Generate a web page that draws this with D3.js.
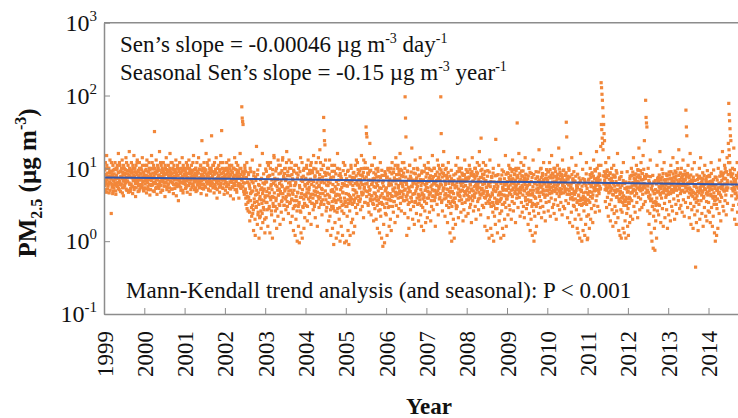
<!DOCTYPE html>
<html>
<head>
<meta charset="utf-8">
<script src="https://cdn.jsdelivr.net/npm/d3@7"></script>
<style>
  body { margin: 0; background: #fff; }
  svg { display: block; font-family: "Liberation Serif", "Times New Roman", serif; }
</style>
</head>
<body>
<svg id="chart" width="738" height="418"></svg>
<script>
// PM2.5 (ug m-3), 8 samples per month, Jan..Dec
const pm1999 = [7.2,9.5,5.8,12,6.4,8.1,15,6.9, 5.2,7.7,10,6.1,4.6,8.8,13,7.4, 6.3,2.4,9.1,5.5,7.9,11,4.9,6.7, 8.4,5.9,12,7.1,4.4,9.6,6.2,10,
  5.6,7.3,16,8.9,5.1,6.6,11,4.8, 9.2,6.1,7.8,13,5.4,8.3,4.2,7.0, 10,5.8,8.6,6.4,14,7.5,5.0,9.3, 6.7,11,4.7,8.0,17,6.0,9.8,5.3,
  7.6,12,5.7,8.7,4.5,10,6.8,15, 5.5,9.0,7.2,4.1,11,6.5,8.2,13, 6.2,4.8,9.4,7.0,12,5.2,8.5,6.0, 10,7.4,5.6,14,6.6,8.9,4.9,7.8];
const pm2000 = [8.0,5.4,11,6.8,9.7,4.6,13,7.1, 6.3,9.0,5.1,12,7.6,4.3,8.4,10, 5.8,15,7.3,6.0,9.9,4.9,11,7.9, 32,6.5,8.8,5.3,13,7.0,4.4,9.2,
  6.9,10,5.6,8.1,17,6.2,7.7,4.7, 11,7.4,5.0,9.5,6.6,12,8.3,5.7, 7.2,4.1,10,6.4,14,8.6,5.5,9.0, 6.0,11,7.8,4.8,9.3,16,6.7,8.2,
  5.2,7.5,12,6.3,10,4.5,8.7,6.9, 9.6,5.9,7.1,13,4.2,8.0,6.1,11, 7.0,3.6,9.1,5.7,12,6.8,8.5,5.0, 10,6.4,14,7.7,4.6,9.4,6.2,8.3];
const pm2001 = [6.6,9.8,5.3,8.0,12,7.2,4.7,10, 7.5,5.8,13,6.2,9.0,4.4,8.4,6.9, 11,5.5,7.7,9.4,6.0,15,7.1,5.1, 8.6,6.5,10,4.8,7.9,12,5.9,9.1,
  6.3,14,7.4,5.4,9.7,6.8,11,4.5, 8.2,24,6.1,10,7.0,5.2,12,8.8, 5.7,9.5,7.3,16,4.3,8.0,6.6,11, 7.8,5.0,13,6.4,9.2,4.9,8.5,10,
  28,6.2,7.6,11,5.6,9.0,4.6,12, 7.0,8.9,5.3,14,6.7,3.9,10,7.4, 6.1,11,8.1,4.7,9.6,5.8,15,7.2, 33,8.4,5.4,12,6.9,9.8,4.4,7.7];
const pm2002 = [7.1,5.0,10,6.4,12,8.3,4.6,9.2, 6.0,13,7.5,5.3,9.9,4.2,8.1,6.7, 11,5.6,8.7,7.0,3.8,10,6.2,14, 5.1,8.0,6.6,12,4.7,9.4,7.3,5.8,
  9.0,3.9,7.8,6.1,16,5.4,10,7.2, 70,49,44,40,6.3,8.6,4.4,11, 5.0,9.1,3.2,7.4,12,4.1,6.5,2.6, 8.2,3.6,5.7,1.9,10,4.5,7.0,2.9,
  4.8,13,2.4,6.3,1.4,8.8,3.4,5.5, 1.2,7.6,3.0,20,4.4,1.7,9.5,2.5, 6.0,1.1,3.8,11,2.2,5.1,1.5,7.3, 3.3,16,1.8,4.9,8.4,2.7,6.1,1.3];
const pm2003 = [4.2,9.8,2.1,6.5,3.4,12,1.6,5.3, 7.8,2.8,4.6,1.3,10,3.7,6.0,2.3, 5.1,1.1,8.3,3.0,4.0,14,1.9,6.7, 2.6,9.2,3.9,1.5,5.6,7.1,2.2,4.3,
  11,3.2,6.2,1.7,4.8,8.6,2.5,5.9, 3.6,13,4.5,2.0,7.4,3.1,9.9,5.2, 6.8,2.7,4.1,17,3.5,8.0,5.5,2.4, 4.9,10,3.3,6.4,1.8,5.0,12,3.8,
  2.2,7.2,4.4,1.4,9.0,3.0,5.8,1.2, 6.1,2.0,11,3.6,1.0,4.7,8.1,1.6, 3.2,0.95,5.4,2.6,14,1.3,4.0,7.5, 1.1,6.6,2.9,9.4,1.5,4.3,2.1,5.7];
const pm2004 = [7.0,3.1,10,4.6,1.9,6.2,13,3.8, 5.1,2.4,8.5,4.0,11,1.7,6.8,3.3, 9.3,4.4,2.7,15,5.7,3.0,7.6,2.1, 4.8,12,3.5,6.3,1.6,8.9,4.1,5.6,
  2.9,7.3,18,4.5,3.2,9.7,5.3,2.3, 6.7,3.7,11,50,33,24,21,4.9, 8.0,2.6,5.9,1.4,10,3.4,6.5,1.9, 4.2,13,2.2,7.1,1.2,5.0,3.0,9.1,
  1.5,6.0,2.8,0.9,4.7,11,1.8,3.6, 8.4,1.1,5.2,2.5,16,1.3,4.3,6.9, 2.0,9.8,1.0,3.9,7.7,1.6,5.5,3.1, 1.2,4.6,12,2.4,6.1,0.95,3.5,8.2];
const pm2005 = [3.0,1.0,5.8,2.2,9.1,1.4,4.4,0.9, 6.6,2.6,1.2,4.0,11,1.8,3.3,7.5, 2.0,5.1,1.3,8.8,3.7,1.6,6.2,2.9, 4.7,13,2.4,5.9,3.2,9.6,4.1,7.0,
  5.4,3.5,8.1,2.7,6.4,15,4.3,3.0, 7.8,4.6,2.1,10,5.5,3.4,12,6.1, 37,30,27,4.8,8.6,3.1,6.9,2.5, 5.0,22,3.8,9.4,2.3,6.0,4.2,11,
  3.3,7.2,1.9,5.6,14,2.8,4.5,8.3, 2.0,6.3,3.6,1.5,10,4.9,2.6,7.7, 1.3,4.0,12,2.2,5.3,1.1,8.0,3.2, 0.85,6.7,1.7,3.9,0.95,9.0,2.4,5.1];
const pm2006 = [2.3,7.4,1.2,4.6,10,2.9,5.8,1.6, 3.8,8.9,2.0,6.1,1.4,4.2,12,3.0, 5.2,2.5,9.8,3.5,6.8,1.8,4.7,14, 3.1,7.0,4.4,2.2,11,5.4,2.8,8.2,
  4.9,16,3.3,6.4,2.6,9.3,4.0,5.9, 7.7,3.6,12,5.0,2.4,96,49,27, 6.6,1.2,4.3,9.0,2.1,5.5,1.5,3.4, 11,4.8,2.7,7.3,3.9,19,5.6,2.0,
  6.2,3.0,8.6,1.7,4.5,13,3.5,7.0, 2.4,5.3,10,3.2,6.5,1.9,4.1,8.1, 3.7,14,2.3,5.8,1.6,9.2,4.4,2.9, 6.9,1.4,4.0,11,2.6,5.0,1.8,7.6];
const pm2007 = [3.3,8.4,2.1,5.4,12,3.9,6.6,2.5, 9.6,4.6,1.9,7.1,3.0,5.9,15,4.1, 2.7,6.3,10,3.6,5.0,1.6,8.0,4.4, 6.8,3.2,13,4.9,2.3,7.5,5.6,9.9,
  4.0,6.1,96,30,3.4,8.7,2.6,11, 5.3,17,3.8,7.9,2.2,6.0,4.5,10, 3.1,7.2,1.8,5.1,12,2.9,4.2,6.7, 1.3,4.7,2.4,9.4,1.0,3.5,6.0,1.5,
  2.0,8.1,1.1,3.9,5.4,1.7,11,2.8, 5.7,3.0,14,4.3,2.1,7.0,3.6,9.1, 4.1,6.4,2.5,10,5.0,3.3,8.3,1.9, 6.9,2.7,4.8,13,3.4,5.8,2.2,7.4];
const pm2008 = [3.7,9.0,5.2,2.4,7.3,4.1,11,2.9, 6.1,3.2,8.6,1.8,5.0,14,3.6,6.7, 2.6,7.8,4.4,10,3.0,5.8,2.0,8.9, 5.3,12,3.5,6.4,2.7,4.7,17,3.9,
  7.5,2.3,26,5.1,9.7,3.1,6.0,4.5, 2.9,8.2,4.0,1.6,6.6,11,3.3,5.5, 1.4,4.8,9.3,2.1,6.2,1.1,3.7,13, 5.6,1.5,3.0,7.7,1.2,4.3,2.5,10,
  1.0,6.5,2.2,4.9,1.7,25,3.4,8.0, 2.8,1.3,5.7,3.6,11,1.9,4.6,2.4, 7.1,1.1,3.9,2.6,9.5,1.5,5.3,3.2, 1.2,6.0,2.0,4.2,15,2.9,1.6,5.0];
const pm2009 = [3.8,8.7,2.3,5.6,11,3.1,6.9,2.7, 9.8,4.4,2.0,7.0,3.5,13,5.1,2.6, 6.3,3.3,8.4,4.8,1.8,10,5.9,3.9, 42,7.4,2.9,5.2,16,4.0,6.6,2.2,
  4.6,12,3.4,7.9,2.5,5.5,9.2,3.0, 6.8,2.1,4.9,14,3.6,8.1,2.8,5.4, 3.2,7.2,1.7,4.3,10,2.4,6.0,1.4, 5.0,2.0,8.5,3.0,1.2,4.5,13,2.6,
  1.0,6.3,2.2,1.3,3.9,9.0,1.6,4.7, 7.6,3.3,5.3,2.4,18,4.1,6.4,2.9, 3.6,10,2.1,5.7,8.0,3.0,4.4,12, 2.5,6.2,4.0,1.9,7.3,3.4,9.6,5.0];
const pm2010 = [4.3,9.1,2.6,6.0,3.5,12,5.1,2.2, 7.4,3.9,15,4.8,2.9,8.3,5.6,3.2, 2.4,6.5,10,3.7,5.3,2.0,7.7,4.5, 11,3.1,6.2,19,4.1,2.7,8.8,5.0,
  3.4,7.0,4.6,2.3,13,5.8,3.0,9.5, 6.4,2.8,5.2,8.1,3.6,43,27,4.4, 2.1,7.8,3.3,10,4.9,1.8,6.1,3.8, 5.5,2.5,14,4.0,1.6,7.2,3.1,9.0,
  3.0,6.7,2.0,4.7,11,2.7,5.4,1.5, 8.3,1.3,4.2,2.3,6.3,1.1,3.6,16, 2.0,5.0,1.0,3.2,9.7,1.4,4.6,2.6, 7.0,1.2,3.9,1.7,5.8,12,2.2,1.05];
const pm2011 = [1.1,4.4,2.3,7.1,1.5,3.4,10,2.0, 5.6,2.8,8.4,3.9,1.8,6.3,13,3.1, 4.9,9.6,2.5,5.8,3.6,17,4.2,7.3, 3.0,6.8,11,4.5,2.6,8.0,5.2,20,
  150,128,104,86,68,52,40,30, 24,7.6,3.5,12,5.4,2.9,9.1,4.0, 6.1,2.2,14,4.7,3.2,8.5,1.9,5.5, 3.7,10,2.7,6.6,1.6,4.3,11,2.4,
  7.9,3.0,5.0,1.8,9.3,2.6,4.1,16, 2.1,5.9,1.4,3.5,7.4,1.2,4.8,2.7, 1.1,8.8,2.5,4.0,1.5,12,3.1,1.3, 6.2,1.9,3.7,1.1,5.2,2.4,9.0,1.6];
const pm2012 = [2.8,1.2,5.5,3.3,1.8,7.8,2.2,4.6, 10,3.6,6.3,2.0,4.9,14,3.0,8.1, 4.2,2.5,7.0,5.7,11,3.4,6.6,2.1, 9.4,4.0,19,5.1,2.7,7.6,3.8,12,
  5.3,2.9,8.5,4.4,15,3.2,6.0,24, 7.2,3.5,86,50,42,37,5.0,2.6, 10,4.1,1.7,6.4,2.4,13,3.6,1.3, 5.2,1.0,3.0,8.0,0.8,2.2,4.5,1.5,
  0.75,6.8,1.9,3.4,1.1,11,2.6,4.8, 7.5,2.3,5.6,3.1,17,4.3,1.8,6.9, 3.9,9.7,2.8,5.8,1.6,4.6,12,3.3, 2.1,6.3,4.0,8.4,2.7,5.1,1.5,7.1];
const pm2013 = [4.4,2.3,8.9,3.5,6.2,1.9,11,5.0, 3.0,7.3,2.6,14,4.7,3.8,6.6,2.0, 9.2,5.5,3.2,7.9,2.4,12,4.2,6.0, 3.6,18,5.2,2.8,8.6,4.5,3.1,10,
  6.7,2.5,4.9,13,3.7,7.0,2.2,5.8, 8.3,3.4,63,37,28,6.1,2.9,11, 4.0,7.7,2.1,5.4,16,3.3,1.7,6.5, 2.7,9.8,4.6,1.5,6.9,3.0,12,2.3,
  5.7,0.44,3.9,1.8,8.1,2.6,4.8,1.4, 7.4,3.2,10,2.0,5.3,14,3.6,6.4, 2.4,4.7,8.7,1.6,3.9,6.0,2.9,11, 5.1,2.2,7.2,3.5,1.9,9.3,4.3,2.6];
const pm2014 = [3.4,8.0,2.5,5.9,1.8,4.4,12,2.9, 6.7,1.6,4.1,2.2,9.5,3.2,1.3,5.3, 1.0,3.7,7.5,1.2,2.8,5.0,1.5,10, 4.6,2.4,13,3.5,6.3,1.9,8.4,4.0,
  5.6,17,3.0,7.2,2.6,4.9,11,3.6, 8.9,4.3,2.3,6.1,14,3.3,5.4,22, 78,55,45,35,28,24,7.8,4.2, 2.7,10,5.1,3.1,19,6.6,2.0,4.5,
  7.0,3.8,1.7,5.7,12,2.5,4.0,8.6, 3.2,6.2,2.1,9.9,4.7,1.4,5.5,3.0];

// the in-between days, also 8 per month
const pm1999b = [6.8,8.3,5.1,9.9,7.0,4.7,11,6.1, 8.6,5.7,7.4,10,6.5,9.1,5.0,7.9, 7.1,12,6.0,8.2,4.5,9.4,6.9,5.4, 9.7,6.3,7.6,4.9,10,8.0,5.8,11,
  6.4,8.7,5.3,7.2,12,6.0,9.0,7.7, 5.9,10,7.3,4.6,8.9,6.7,11,5.5, 8.1,6.2,9.6,7.0,5.2,12,6.6,8.4, 7.5,5.0,9.2,6.3,10,7.8,4.8,8.6,
  6.1,9.3,7.4,5.6,11,6.8,8.0,5.1, 7.7,10,6.2,8.8,5.4,7.0,12,6.5, 9.0,5.8,7.9,4.9,10,6.9,8.3,5.5, 7.2,9.5,6.0,11,7.6,5.3,8.5,6.7];
const pm2000b = [7.4,6.1,9.3,5.2,8.0,11,6.5,7.8, 5.6,8.9,7.0,10,6.0,9.5,5.1,8.2, 6.8,7.5,12,5.9,8.6,6.4,9.8,4.8, 7.3,10,6.2,8.4,5.5,9.1,7.1,11,
  6.0,8.0,5.3,9.4,7.6,6.6,12,5.8, 8.7,6.9,10,5.0,7.7,9.0,6.3,8.1, 5.7,11,7.2,6.4,9.6,5.1,8.3,7.0, 9.2,6.1,7.9,5.4,10,6.7,8.8,12,
  6.5,8.4,5.2,9.7,7.3,6.0,11,7.8, 5.3,7.6,9.0,6.2,8.5,5.6,10,6.9, 8.0,5.9,7.1,9.9,6.4,8.7,5.5,7.4, 6.3,9.1,7.7,5.0,11,6.8,8.2,10];
const pm2001b = [7.9,6.0,9.0,5.5,8.3,6.7,11,7.2, 5.8,8.5,7.0,10,6.3,9.4,5.1,7.6, 8.8,6.1,7.4,12,5.7,8.0,6.6,9.6, 7.3,5.4,10,6.9,8.2,5.0,9.1,6.4,
  8.6,7.0,5.6,9.8,6.2,11,7.5,5.9, 6.8,9.2,5.3,8.1,7.7,6.0,10,8.9, 7.1,5.5,9.5,6.5,8.4,12,6.1,7.8, 5.2,8.7,6.9,10,7.4,5.8,9.3,6.6,
  9.0,6.3,7.9,5.4,11,7.0,8.3,6.0, 5.7,9.7,7.2,6.4,8.6,5.1,10,7.6, 8.0,6.7,5.5,9.1,7.3,12,6.2,8.5, 6.9,10,7.5,5.3,8.8,6.1,9.4,7.0];
const pm2002b = [8.1,6.3,9.5,5.6,7.4,10,6.0,8.7, 5.9,7.8,11,6.5,8.3,5.2,9.2,7.0, 6.4,8.9,5.5,7.6,10,6.1,8.0,5.8, 7.2,9.6,6.7,5.1,8.5,7.9,11,6.2,
  8.8,5.7,7.3,9.9,6.0,8.2,5.3,7.0, 6.9,9.0,5.6,7.7,4.8,8.4,6.3,10, 5.2,3.9,7.5,4.6,2.8,6.4,3.4,8.7, 4.0,6.1,2.5,5.3,3.6,9.0,4.7,2.2,
  6.6,3.1,4.9,2.7,7.9,3.8,5.6,2.0, 4.3,6.8,2.9,5.0,3.5,8.2,2.3,4.6, 3.2,5.8,2.1,4.1,7.0,2.6,3.7,5.4, 2.4,4.5,6.3,2.9,3.6,5.2,2.0,4.0];
const pm2003b = [6.5,3.4,9.1,4.8,2.7,7.6,4.2,11, 5.3,3.0,8.0,4.0,12,5.7,2.6,6.9, 4.1,9.6,3.3,6.2,15,4.6,7.3,3.0, 5.9,3.6,10,2.8,7.0,5.0,13,4.3,
  8.4,5.2,3.1,11,4.5,6.8,3.5,9.3, 5.6,14,4.0,7.7,3.1,8.5,4.9,10, 3.8,7.1,12,5.4,3.0,9.0,4.4,6.3, 13,4.3,7.9,3.4,5.8,10,3.7,8.2,
  4.6,6.9,2.8,9.4,5.0,3.6,11,3.1, 6.4,4.1,8.6,2.6,7.3,4.6,3.0,10, 3.4,5.8,9.0,4.0,2.5,6.8,4.5,12, 5.1,3.0,7.8,3.8,10,3.3,6.0,4.3];
const pm2004b = [7.3,4.1,11,5.2,3.0,8.4,4.6,6.6, 5.5,9.4,3.5,7.1,4.4,12,6.0,3.3, 8.7,3.9,6.6,10,4.9,3.2,7.9,4.3, 9.8,5.4,3.4,8.9,4.7,6.9,14,3.8,
  5.8,8.2,4.0,12,6.4,3.5,9.6,5.1, 7.6,4.5,11,3.2,6.3,8.8,4.2,13, 3.7,6.9,2.9,8.6,4.4,5.8,10,3.3, 8.3,4.0,6.3,2.7,7.5,4.8,11,3.5,
  5.1,3.0,7.6,3.8,9.1,2.6,5.6,4.2, 3.4,6.6,4.4,10,2.8,6.0,3.7,8.0, 4.3,2.9,8.5,5.1,3.5,7.2,2.6,6.2, 4.7,9.3,3.2,5.8,3.9,11,3.4,6.8];
const pm2005b = [4.5,7.2,3.0,5.7,3.7,9.4,3.3,6.5, 4.2,7.8,3.6,6.1,10,3.8,6.7,3.2, 5.8,8.6,4.3,3.4,7.4,5.0,11,3.9, 7.9,4.6,6.4,12,4.1,8.5,3.6,5.9,
  9.2,5.4,3.8,7.0,9.9,4.7,8.0,6.0, 4.4,8.8,13,5.2,7.2,3.4,10,4.9, 7.6,4.1,6.2,10,3.3,8.3,5.6,4.4, 9.0,5.1,3.6,6.9,4.2,11,6.1,3.7,
  6.6,3.2,8.7,4.6,7.3,3.8,5.5,9.8, 4.1,7.6,3.1,5.8,9.1,3.7,6.7,3.3, 5.4,2.7,7.5,4.2,3.4,9.4,4.5,6.3, 3.2,5.7,4.0,8.0,2.9,4.9,8.3,3.8];
const pm2006b = [5.4,3.3,7.6,4.2,9.5,3.7,6.4,3.0, 7.1,4.5,10,3.6,5.9,8.4,4.1,6.7, 4.9,8.8,3.5,7.4,5.4,11,4.2,6.1, 8.2,4.6,6.9,10,3.9,5.8,9.1,4.5,
  7.2,4.0,9.7,6.2,8.0,4.8,12,5.6, 4.4,8.6,6.5,3.6,10,5.2,7.6,4.1, 6.0,3.7,9.2,4.7,3.2,7.1,5.3,11, 4.8,7.8,4.0,8.9,5.7,3.5,6.9,4.4,
  6.4,9.9,4.5,6.7,3.4,8.4,4.9,6.1, 7.4,3.9,5.7,9.6,4.4,7.9,3.3,6.5, 4.2,7.0,5.1,3.1,8.6,4.6,6.3,3.8, 6.9,4.3,9.0,3.5,6.0,5.0,10,5.5];
const pm2007b = [6.2,3.9,8.5,4.8,6.7,10,4.3,7.4, 4.6,7.9,5.6,3.6,9.3,5.1,7.0,4.2, 7.7,4.9,10,6.1,4.0,8.2,6.5,4.7, 5.8,8.9,4.4,7.1,11,5.3,3.8,8.3,
  6.8,4.5,9.5,5.9,3.6,7.6,11,4.9, 8.5,5.4,6.7,4.3,9.6,6.4,3.9,8.0, 5.2,7.3,4.2,8.8,3.5,6.2,4.8,7.8, 3.3,5.4,4.0,7.2,3.0,4.8,6.6,3.6,
  4.5,6.8,3.4,5.9,3.9,8.4,3.1,5.6, 6.4,9.0,4.6,7.1,5.2,10,4.3,7.6, 4.8,6.9,5.8,3.7,8.6,5.0,6.3,8.0, 5.6,4.2,8.2,6.6,4.5,7.3,9.6,4.9];
const pm2008b = [6.7,4.3,8.8,5.4,3.7,7.6,4.7,9.7, 5.9,3.9,8.0,5.2,9.0,4.2,6.6,4.9, 8.2,5.6,4.0,7.3,10,4.6,6.3,7.9, 5.1,8.6,5.8,3.8,7.0,11,5.4,4.4,
  6.5,9.3,4.3,7.5,5.3,8.3,4.6,12, 7.2,4.9,6.2,9.1,3.9,6.8,5.5,4.2, 4.5,7.8,3.5,5.8,4.3,8.9,3.3,6.3, 4.1,6.6,3.0,7.5,4.6,3.4,8.6,5.1,
  3.1,5.6,3.9,7.9,2.8,4.8,6.1,3.7, 5.3,3.3,8.2,4.3,6.5,3.5,7.1,4.7, 3.7,6.2,4.4,8.1,3.2,5.5,5.0,9.0, 4.3,7.2,3.4,5.9,5.1,8.3,3.8,6.2];
const pm2009b = [6.6,4.2,8.5,5.3,7.5,4.6,10,5.9, 7.9,5.0,6.3,9.0,4.1,7.2,5.4,9.6, 6.1,8.2,4.5,6.9,5.6,9.3,5.1,7.6, 4.4,8.0,6.2,10,4.8,6.6,8.6,5.5,
  7.1,5.1,9.2,5.8,7.8,4.3,6.5,11, 5.0,7.4,6.0,4.0,8.3,5.3,6.8,4.5, 5.8,3.7,7.9,4.7,6.2,3.5,8.8,4.4, 3.6,6.6,4.3,7.5,3.3,5.6,5.0,8.2,
  4.1,3.2,6.2,3.9,7.2,3.0,5.2,5.9, 7.6,4.9,6.6,8.9,4.6,6.9,5.8,9.8, 5.5,7.5,4.7,6.5,8.5,5.1,6.8,6.1, 4.9,7.1,6.2,4.3,8.2,5.6,7.3,5.0];
const pm2010b = [6.8,4.9,8.9,5.6,7.6,4.5,9.6,6.2, 8.0,5.5,4.6,8.6,6.5,7.4,5.0,10, 5.9,7.8,4.8,9.0,6.6,5.2,7.1,5.8, 8.3,6.1,7.2,4.9,9.8,5.3,7.9,4.5,
  6.4,8.2,5.2,7.5,5.9,9.3,4.6,6.9, 5.6,8.0,4.8,6.6,8.7,5.2,7.2,6.2, 5.1,7.1,5.9,9.4,4.4,7.6,5.4,3.9, 6.1,4.5,8.2,5.2,6.9,3.7,6.4,4.8,
  4.4,6.6,3.8,7.8,5.0,5.8,3.4,5.5, 3.6,6.1,4.3,7.4,3.2,5.1,6.8,3.9, 4.8,3.1,5.7,3.7,7.2,4.1,3.3,6.2, 3.9,6.5,3.5,4.7,8.4,3.2,5.3,3.7];
const pm2011b = [4.6,6.9,3.6,6.2,4.8,8.2,4.1,7.5, 5.8,4.7,8.7,6.5,4.3,7.8,5.5,5.2, 7.2,5.4,9.2,5.0,6.8,5.9,10,5.1, 6.2,7.6,4.8,8.4,5.7,6.9,5.3,11,
  40,34,26,22,18,7.9,6.1,9.0, 6.8,5.1,8.3,5.9,7.5,5.0,9.5,6.2, 5.4,8.0,4.6,7.1,5.8,8.7,4.9,6.5, 7.3,5.3,6.4,4.4,8.1,6.1,5.0,7.6,
  5.7,7.6,4.7,6.6,4.0,8.6,5.1,6.0, 4.9,6.1,3.8,7.1,4.4,5.4,3.5,7.7, 3.9,5.8,4.6,3.4,6.8,4.2,6.2,3.6, 5.3,3.5,6.5,4.0,3.1,5.5,4.7,3.8];
const pm2012b = [4.9,3.4,6.4,4.0,7.2,3.8,5.5,4.6, 8.0,5.7,4.7,8.9,6.4,5.1,7.3,5.9, 6.8,5.0,8.4,6.1,4.5,7.6,5.4,9.6, 6.5,8.1,5.3,7.4,5.8,9.3,4.9,6.9,
  6.1,8.5,5.1,7.0,5.5,9.7,6.2,7.7, 5.4,7.3,4.6,8.2,5.9,5.0,7.8,5.7, 4.7,6.8,3.9,6.2,4.3,7.7,3.6,5.3, 3.8,5.8,3.0,4.9,3.4,6.5,2.7,4.5,
  3.5,5.1,3.1,6.1,3.9,4.7,7.2,3.2, 6.6,4.9,8.1,5.5,4.5,7.3,5.3,6.2, 5.7,7.6,4.7,8.5,6.1,5.1,6.9,5.4, 5.0,7.0,5.9,4.3,8.0,4.9,6.3,5.5];
const pm2013b = [6.2,4.7,8.1,5.5,7.2,4.5,9.0,5.9, 6.8,5.1,6.3,8.4,4.9,7.6,5.7,5.3, 7.3,5.4,8.8,5.0,6.9,6.1,9.9,5.8, 6.5,8.0,5.3,7.0,5.9,8.6,4.9,7.4,
  5.8,7.8,5.0,8.2,6.2,6.8,4.7,9.2, 7.0,5.4,7.7,5.9,4.9,8.5,6.3,5.3, 6.1,7.4,4.6,6.6,5.1,8.1,4.3,6.9, 5.0,6.5,4.1,7.6,4.7,5.7,3.8,6.8,
  4.5,5.9,3.4,5.4,4.2,7.0,3.6,4.9, 6.2,4.6,7.8,5.5,5.0,7.3,5.8,4.3, 6.6,4.9,7.2,5.7,4.1,8.0,5.3,6.1, 5.1,6.8,4.5,6.2,7.7,4.7,5.5,6.5];
const pm2014b = [5.9,4.9,7.7,5.3,6.6,4.2,8.5,5.7, 5.1,6.3,3.9,7.0,4.6,5.8,3.6,7.6, 4.1,5.9,3.2,5.0,6.9,3.8,5.4,4.5, 6.2,4.7,7.8,5.5,4.3,8.9,5.3,6.8,
  5.7,8.0,5.1,8.6,6.1,4.9,7.3,10, 7.2,5.4,9.0,5.0,6.8,6.2,8.2,12, 18,15,12,9.4,8.5,6.5,7.7,5.3, 6.1,8.4,4.9,7.3,5.5,9.6,5.1,6.8,
  6.3,4.6,8.0,5.8,4.2,7.4,5.4,8.6, 5.3,6.9,4.5,6.2,7.8,4.7,6.5,5.7];

const yearTicks = [1999, 2000, 2001, 2002, 2003, 2004, 2005, 2006, 2007, 2008, 2009, 2010, 2011, 2012, 2013, 2014];
const yearSeries = [
  [pm1999, pm1999b], [pm2000, pm2000b], [pm2001, pm2001b], [pm2002, pm2002b],
  [pm2003, pm2003b], [pm2004, pm2004b], [pm2005, pm2005b], [pm2006, pm2006b],
  [pm2007, pm2007b], [pm2008, pm2008b], [pm2009, pm2009b], [pm2010, pm2010b],
  [pm2011, pm2011b], [pm2012, pm2012b], [pm2013, pm2013b], [pm2014, pm2014b]];
const decadeTicks = [0.1, 1, 10, 100, 1000];
const trendYears = [1999, 2015];
const trendValues = [7.5, 6.0];

const svg = d3.select('#chart');
const axisCol = '#8c8c8c';
const orange = '#f2873a';

const plotLeft = 104, plotTop = 22.7, plotBottom = 314, pxPerYear = 40.3;
const x = d3.scaleLinear().domain([1999, 2015]).range([plotLeft, plotLeft + 16 * pxPerYear]);
const y = d3.scaleLog().domain([0.1, 1000]).range([plotBottom, plotTop]);

// slot i of a year array sits at day (i + 0.25)/96 (first set) or (i + 0.75)/96 (second set)
const points = yearSeries.flatMap(([a, b], k) => [
  ...a.map((v, i) => ({ t: yearTicks[k] + (i + 0.25) / 96, v })),
  ...b.map((v, i) => ({ t: yearTicks[k] + (i + 0.75) / 96, v }))
]);

svg.append('clipPath').attr('id', 'plotClip')
  .append('rect')
  .attr('x', plotLeft).attr('y', plotTop)
  .attr('width', x(2015) - plotLeft).attr('height', plotBottom - plotTop);

// scatter
const ms = 3.2;
svg.append('g')
  .attr('clip-path', 'url(#plotClip)')
  .selectAll('rect')
  .data(points)
  .enter().append('rect')
  .attr('x', d => x(d.t) - ms / 2)
  .attr('y', d => y(d.v) - ms / 2)
  .attr('width', ms)
  .attr('height', ms)
  .attr('fill', orange);

// trend line
const trend = trendYears.map((t, i) => [t, trendValues[i]]);
svg.append('path')
  .datum(trend)
  .attr('clip-path', 'url(#plotClip)')
  .attr('d', d3.line().x(d => x(d[0])).y(d => y(d[1])))
  .attr('fill', 'none')
  .attr('stroke', '#3358ad')
  .attr('stroke-width', 2);

// top frame line
svg.append('line')
  .attr('x1', plotLeft).attr('x2', x(2015))
  .attr('y1', y(1000)).attr('y2', y(1000))
  .attr('stroke', axisCol).attr('stroke-width', 1.5);

// x axis
const gx = svg.append('g')
  .attr('transform', `translate(0,${plotBottom})`)
  .call(d3.axisBottom(x).tickValues(yearTicks).tickSize(-6).tickSizeOuter(0).tickFormat(d3.format('d')));
gx.select('.domain').attr('stroke', axisCol).attr('stroke-width', 1.5);
gx.selectAll('.tick line').attr('stroke', axisCol);
gx.selectAll('.tick text')
  .attr('transform', 'rotate(-90)')
  .attr('text-anchor', 'end')
  .attr('x', -17).attr('y', 0).attr('dy', '0.35em')
  .attr('font-size', 23)
  .attr('font-family', '"Liberation Serif", "Times New Roman", serif')
  .attr('fill', '#111');

// y axis
const gy = svg.append('g')
  .attr('transform', `translate(${plotLeft},0)`)
  .call(d3.axisLeft(y).tickValues(decadeTicks).tickSize(-6).tickSizeOuter(0).tickPadding(7));
gy.select('.domain').attr('stroke', axisCol).attr('stroke-width', 1.5);
gy.selectAll('.tick line').attr('stroke', axisCol);
gy.selectAll('.tick text')
  .attr('font-size', 24)
  .attr('font-family', '"Liberation Serif", "Times New Roman", serif')
  .attr('fill', '#111')
  .each(function(d) {
    const t = d3.select(this);
    t.text(null);
    t.append('tspan').text('10');
    t.append('tspan').attr('dy', -10).attr('font-size', 15).text(Math.round(Math.log10(d)));
  });

// annotations
function noteLine(xp, yp, parts) {
  const t = svg.append('text')
    .attr('x', xp).attr('y', yp)
    .attr('font-size', 23)
    .attr('fill', '#111')
    .style('white-space', 'pre');
  let shift = 0;
  parts.forEach(p => {
    const up = p.sup ? -9 : 0;
    t.append('tspan')
      .attr('dy', up - shift)
      .attr('font-size', p.sup ? 14 : null)
      .text(p.s);
    shift = up;
  });
}
noteLine(120, 52, [{ s: 'Sen\u2019s slope = -0.00046 \u00b5g m' }, { s: '-3', sup: true }, { s: ' day' }, { s: '-1', sup: true }]);
noteLine(120, 80, [{ s: 'Seasonal Sen\u2019s slope = -0.15 \u00b5g m' }, { s: '-3', sup: true }, { s: ' year' }, { s: '-1', sup: true }]);
noteLine(126, 298, [{ s: 'Mann-Kendall trend analysis (and seasonal): P < 0.001' }]);

// axis titles
const yt = svg.append('text')
  .attr('transform', 'translate(36,183) rotate(-90)')
  .attr('text-anchor', 'middle')
  .attr('font-size', 25)
  .attr('font-weight', 'bold')
  .attr('fill', '#111')
  .style('white-space', 'pre');
yt.append('tspan').text('PM');
yt.append('tspan').attr('dy', 6).attr('font-size', 16).text('2.5');
yt.append('tspan').attr('dy', -6).text(' (\u00b5g m');
yt.append('tspan').attr('dy', -10).attr('font-size', 16).text('-3');
yt.append('tspan').attr('dy', 10).text(')');

svg.append('text')
  .attr('x', 429).attr('y', 414)
  .attr('text-anchor', 'middle')
  .attr('font-size', 23)
  .attr('font-weight', 'bold')
  .attr('fill', '#111')
  .text('Year');
</script>
</body>
</html>
